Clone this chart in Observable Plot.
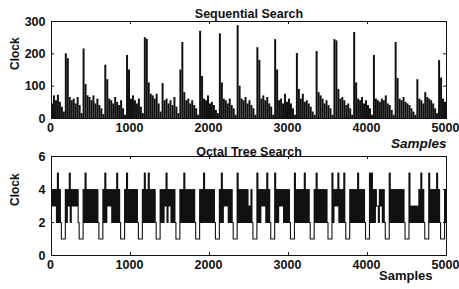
<!DOCTYPE html>
<html>
<head>
<meta charset="utf-8">
<script src="https://cdn.jsdelivr.net/npm/d3@7"></script>
<script src="https://cdn.jsdelivr.net/npm/@observablehq/plot@0.6"></script>
<style>
  html, body { margin: 0; padding: 0; background: #fff; }
  #wrap { position: relative; width: 459px; height: 289px; overflow: hidden; background: #fff; }
  #wrap > svg { position: absolute; left: 0; }
</style>
</head>
<body>
<div id="wrap"></div>
<script>
// ---- data ----
const sampleCount = 5000;
const binSize = 25; // samples summarised by each value below
const xTicks = [0, 1000, 2000, 3000, 4000, 5000];
const seqYTicks = [0, 100, 200, 300];
const octYTicks = [0, 2, 4, 6];
const seqTitle = "Sequential Search";
const octTitle = "Octal Tree Search";
const yLabel = "Clock";
const xLabel = "Samples";

// Sequential search: peak clock value per 25-sample bin
const seqHigh = [
  45,70,55,72,50,35,20,200,185,65,
  55,60,45,65,40,15,215,105,70,65,
  55,70,45,60,40,30,12,165,120,60,
  55,45,65,50,40,55,30,10,195,150,
  60,70,55,45,60,35,15,250,245,110,
  75,70,60,75,45,20,108,55,60,45,
  55,40,65,35,15,150,235,80,55,60,
  45,55,40,30,10,270,130,60,55,70,
  45,50,40,25,15,262,110,60,55,45,
  60,40,30,10,287,100,60,55,65,45,
  55,40,30,10,219,180,60,70,55,65,
  45,35,10,244,150,55,60,45,75,50,
  60,45,30,10,201,90,60,75,50,55,
  45,35,20,10,207,80,70,60,45,55,
  40,30,10,244,240,90,60,65,55,40,
  45,30,10,266,110,60,55,65,45,55,
  40,30,10,195,60,55,50,60,55,70,
  45,40,25,10,235,124,60,55,65,50,
  45,40,30,20,10,120,60,55,45,80,
  65,60,55,45,30,15,179,125,60,50
];

// Octal tree search: highest and lowest clock value per 25-sample bin
const octHigh = [
  4,4,4,5,4,1,1,4,4,5,
  4,4,4,4,1,1,4,5,4,4,
  4,4,4,4,1,1,4,5,4,4,
  4,4,4,5,4,1,1,4,5,4,
  4,4,4,4,1,1,4,5,4,5,
  4,4,4,1,1,4,4,4,5,4,
  4,4,4,1,1,4,4,5,4,4,
  4,4,4,1,1,4,4,5,4,4,
  4,4,4,1,1,4,5,4,4,4,
  4,4,1,1,5,4,4,4,4,4,
  3,4,1,1,5,4,4,4,4,5,
  4,1,1,5,4,4,4,4,4,4,
  4,1,1,5,4,4,4,4,5,4,
  4,1,1,4,5,4,4,4,4,4,
  1,1,5,4,4,5,4,4,5,1,
  1,4,4,4,4,5,4,4,4,1,
  1,5,5,4,4,3,4,4,4,1,
  1,5,4,4,4,4,4,4,4,1,
  1,5,3,3,3,3,4,5,4,1,
  1,5,4,4,4,5,4,1,1,4
];
const octLow = [
  3,3,2,2,2,1,1,2,3,2,
  3,3,3,2,1,1,2,2,2,2,
  2,2,2,2,1,1,2,2,3,3,
  2,2,2,2,2,1,1,2,2,2,
  2,2,2,2,1,1,2,2,2,2,
  2,2,2,1,1,2,2,3,2,3,
  2,2,2,1,1,2,2,2,2,2,
  2,2,2,1,1,2,2,2,2,2,
  2,2,2,1,1,2,2,3,3,2,
  2,2,1,1,2,2,2,2,2,2,
  2,2,1,1,2,2,3,3,2,2,
  2,1,1,2,2,3,3,2,2,2,
  2,1,1,2,2,2,2,2,2,2,
  2,1,1,2,2,2,2,2,2,2,
  1,1,2,3,3,2,2,2,2,1,
  1,2,2,2,2,2,2,2,2,1,
  1,2,2,2,3,2,3,2,2,1,
  1,2,2,2,2,2,2,2,2,1,
  1,2,2,2,2,2,2,2,2,1,
  1,2,2,2,2,2,2,1,1,2
];

// ---- derived tables ----
const seqRows = seqHigh.map((v, i) => ({x1: i * binSize, x2: (i + 1) * binSize, y: v}));
const octRows = octHigh.flatMap((h, i) => [
  {x: i * binSize, y: h},
  {x: i * binSize + binSize / 2, y: octLow[i]}
]);

const ink = "#111";
const font = {
  fontFamily: "'Liberation Sans', Arial, Helvetica, sans-serif",
  fontSize: "12.5px",
  fontWeight: "bold",
  background: "transparent",
  overflow: "visible",
  color: ink
};

function frameTicks(yTicks, fw, fh) {
  return [
    Plot.tickX(xTicks, {x: d => d, insetTop: fh - 3, stroke: ink}),
    Plot.tickX(xTicks, {x: d => d, insetBottom: fh - 3, stroke: ink}),
    Plot.tickY(yTicks, {y: d => d, insetRight: fw - 3, stroke: ink}),
    Plot.tickY(yTicks, {y: d => d, insetLeft: fw - 3, stroke: ink})
  ];
}

const W = 459, mL = 51, mR = 13;
const fw = W - mL - mR;
const fmt = d => String(d);

const seqChart = Plot.plot({
  width: W, height: 152,
  marginLeft: mL, marginRight: mR, marginTop: 21, marginBottom: 34,
  style: font,
  x: {domain: [0, sampleCount]},
  y: {domain: [0, 300]},
  marks: [
    Plot.rectY(seqRows, {x1: "x1", x2: "x2", y: "y", fill: ink, inset: 0}),
    ...frameTicks(seqYTicks, fw, 97),
    Plot.frame({stroke: ink}),
    Plot.axisX({ticks: xTicks, tickSize: 0, tickPadding: 5, tickFormat: fmt, label: null, dx: -1}),
    Plot.axisY({ticks: seqYTicks, tickSize: 0, tickPadding: 6, tickFormat: fmt, label: null}),
    Plot.text([seqTitle], {frameAnchor: "top", lineAnchor: "bottom", dy: -4, fill: ink, fontSize: 12.5}),
    Plot.text([yLabel], {frameAnchor: "left", rotate: -90, dx: -36, fill: ink, fontSize: 12}),
    Plot.text([xLabel], {frameAnchor: "bottom-right", textAnchor: "end", dy: 29, fontStyle: "italic", fontSize: 13.5, fill: ink})
  ]
});
seqChart.style.top = "0px";

const octChart = Plot.plot({
  width: W, height: 149,
  marginLeft: mL, marginRight: mR, marginTop: 16, marginBottom: 34,
  style: font,
  x: {domain: [0, sampleCount]},
  y: {domain: [0, 6]},
  marks: [
    Plot.line(octRows, {x: "x", y: "y", curve: "step-after", stroke: ink, strokeWidth: 1.1}),
    ...frameTicks(octYTicks, fw, 99),
    Plot.frame({stroke: ink}),
    Plot.axisX({ticks: xTicks, tickSize: 0, tickPadding: 5, tickFormat: fmt, label: null, dx: -1}),
    Plot.axisY({ticks: octYTicks, tickSize: 0, tickPadding: 6, tickFormat: fmt, label: null}),
    Plot.text([octTitle], {frameAnchor: "top", lineAnchor: "bottom", dy: -1, fill: ink, fontSize: 12.5}),
    Plot.text([yLabel], {frameAnchor: "left", rotate: -90, dx: -36, fill: ink, fontSize: 12}),
    Plot.text([xLabel], {frameAnchor: "bottom-right", textAnchor: "end", dx: -14, dy: 24, fontSize: 13, fill: ink})
  ]
});
octChart.style.top = "140px";

const wrap = document.getElementById("wrap");
wrap.appendChild(seqChart);
wrap.appendChild(octChart);
</script>
</body>
</html>
